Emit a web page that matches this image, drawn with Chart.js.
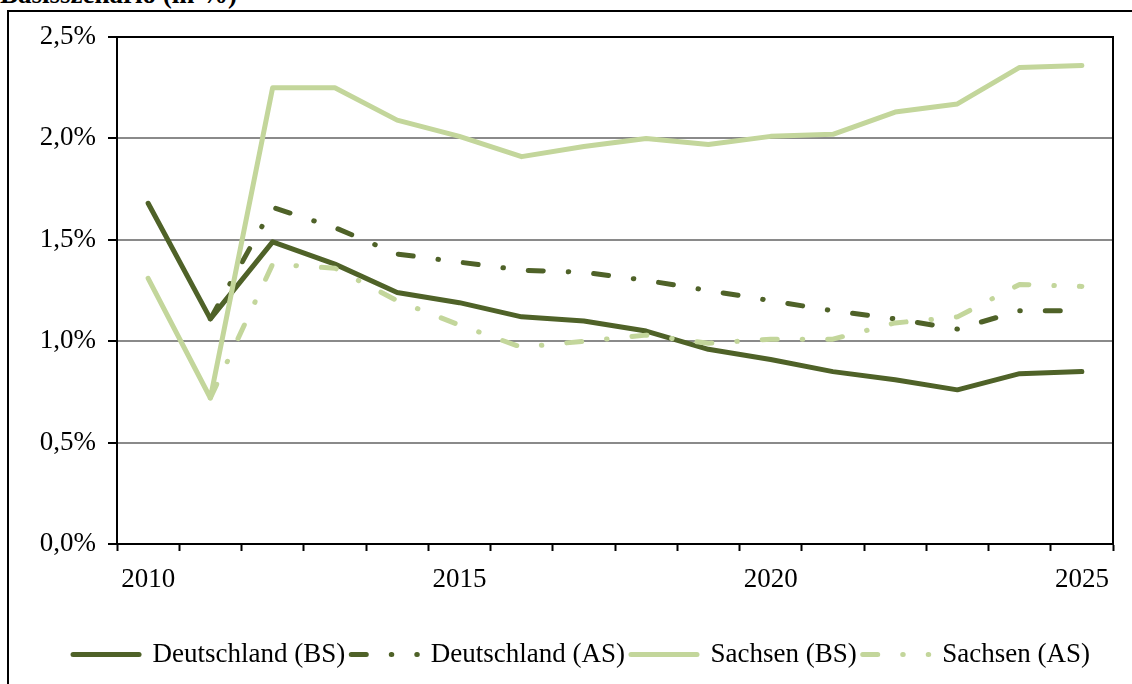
<!DOCTYPE html>
<html>
<head>
<meta charset="utf-8">
<script src="https://cdn.jsdelivr.net/npm/chart.js@4.4.1/dist/chart.umd.min.js"></script>
<style>
  html, body { margin: 0; padding: 0; background: #fff; overflow: hidden; }
  #wrap { position: relative; width: 1132px; height: 684px; }
  #frame { position: absolute; left: 7px; top: 10px; width: 1200px; height: 800px;
           border-left: 2px solid #000; border-top: 2px solid #000; }
  #title { position: absolute; left: 0; top: -19px; font: bold 27px/27px "Liberation Serif", "Times New Roman", serif;
           color: #000; white-space: nowrap; }
  #chart { position: absolute; left: 0; top: 0; }
</style>
</head>
<body>
<div id="wrap">
  <div id="frame"></div>
  <div id="title">Basisszenario (in %)</div>
  <canvas id="chart" width="1132" height="684"></canvas>
</div>
<script>
const years = ['2010', '2011', '2012', '2013', '2014', '2015', '2016', '2017',
               '2018', '2019', '2020', '2021', '2022', '2023', '2024', '2025'];
const shownYears = ['2010', '2015', '2020', '2025'];
const seriesNames = ['Deutschland (BS)', 'Deutschland (AS)', 'Sachsen (BS)', 'Sachsen (AS)'];

const deutschlandBS = [1.68, 1.11, 1.49, 1.38, 1.24, 1.19, 1.12, 1.10, 1.05, 0.96, 0.91, 0.85, 0.81, 0.76, 0.84, 0.85];
const deutschlandAS = [null, 1.11, 1.66, 1.56, 1.43, 1.39, 1.35, 1.34, 1.30, 1.25, 1.20, 1.15, 1.11, 1.06, 1.15, 1.15];
const sachsenBS     = [1.31, 0.72, 2.25, 2.25, 2.09, 2.01, 1.91, 1.96, 2.00, 1.97, 2.01, 2.02, 2.13, 2.17, 2.35, 2.36];
const sachsenAS     = [null, 0.72, 1.38, 1.36, 1.20, 1.08, 0.97, 1.00, 1.03, 0.99, 1.01, 1.01, 1.09, 1.12, 1.28, 1.27];

const yTicks = [0, 0.5, 1, 1.5, 2, 2.5];

const darkGreen = '#4f6228';
const lightGreen = '#c3d69b';
const dashDot = [15, 25, 0.5, 25];

Chart.defaults.font.family = '"Liberation Serif", "Times New Roman", serif';
Chart.defaults.font.size = 27;
Chart.defaults.color = '#000';

// black top and right edge of the plot area, legend nudged right like the original
const plotFrame = {
    id: 'plotFrame',
    afterLayout(chart) {
        chart.legend.left += 25;
        chart.legend.right += 25;
    },
    beforeDatasetsDraw(chart) {
        const { ctx, chartArea: a } = chart;
        ctx.save();
        ctx.strokeStyle = '#000';
        ctx.lineWidth = 2;
        ctx.beginPath();
        ctx.moveTo(a.left, a.top);
        ctx.lineTo(a.right, a.top);
        ctx.lineTo(a.right, a.bottom);
        ctx.stroke();
        ctx.restore();
    }
};

function line(label, data, color, dash, order) {
    return {
        label: label,
        data: data,
        borderColor: color,
        backgroundColor: color,
        borderWidth: 5,
        borderDash: dash,
        borderCapStyle: 'round',
        borderJoinStyle: 'round',
        pointRadius: 0,
        tension: 0,
        spanGaps: false,
        order: order
    };
}

new Chart(document.getElementById('chart'), {
    type: 'line',
    data: {
        labels: years,
        datasets: [
            line(seriesNames[0], deutschlandBS, darkGreen, [], 4),
            line(seriesNames[1], deutschlandAS, darkGreen, dashDot, 3),
            line(seriesNames[2], sachsenBS, lightGreen, [], 2),
            line(seriesNames[3], sachsenAS, lightGreen, dashDot, 1)
        ]
    },
    options: {
        responsive: false,
        animation: false,
        events: [],
        layout: { padding: { left: 0, right: 19, top: 37, bottom: 6 } },
        scales: {
            x: {
                type: 'category',
                offset: true,
                grid: { drawOnChartArea: false, drawTicks: true, tickLength: 7, tickColor: '#000', tickWidth: 2, offset: true },
                border: { color: '#000', width: 2 },
                ticks: {
                    autoSkip: false,
                    maxRotation: 0,
                    padding: 13,
                    callback: (v, i) => shownYears.includes(years[i]) ? years[i] : ''
                },
                afterFit: s => { s.height = 91; }
            },
            y: {
                min: yTicks[0],
                max: yTicks[yTicks.length - 1],
                afterBuildTicks: s => { s.ticks = yTicks.map(v => ({ value: v })); },
                grid: { color: '#8a8a8a', lineWidth: 2, tickLength: 9, tickColor: '#000', tickWidth: 2 },
                border: { color: '#000', width: 2 },
                ticks: {
                    padding: 12,
                    callback: v => v.toFixed(1).replace('.', ',') + '%'
                },
                afterFit: s => { s.width = 117; }
            }
        },
        plugins: {
            tooltip: { enabled: false },
            legend: {
                position: 'bottom',
                labels: {
                    usePointStyle: true,
                    pointStyle: 'line',
                    pointStyleWidth: 66,
                    padding: 6,
                    sort: (a, b) => a.datasetIndex - b.datasetIndex,
                    generateLabels: chart => {
                        const items = Chart.defaults.plugins.legend.labels.generateLabels(chart);
                        items.forEach(it => {
                            const ds = chart.data.datasets[it.datasetIndex];
                            it.lineDash = ds.borderDash;
                            it.lineCap = 'round';
                            it.lineWidth = 5;
                            it.strokeStyle = ds.borderColor;
                        });
                        return items;
                    }
                }
            }
        }
    },
    plugins: [plotFrame]
});
</script>
</body>
</html>
